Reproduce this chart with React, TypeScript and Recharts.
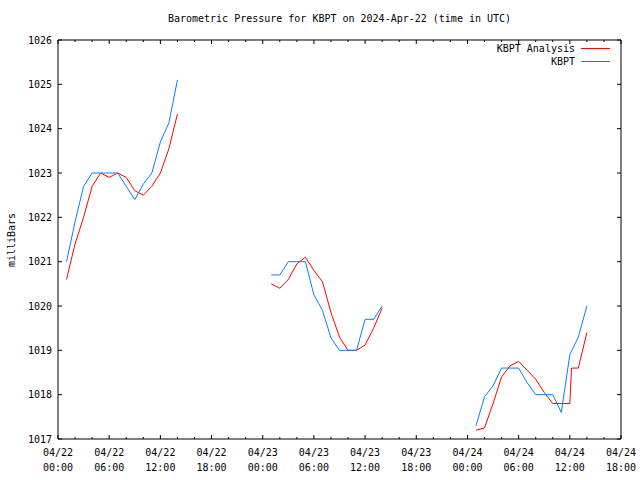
import React from 'react';
import { LineChart, Line, XAxis, YAxis, Legend } from 'recharts';

// hours since 04/22 00:00 UTC, null value = gap in the record
const analysisHours = [
  1, 2, 3, 4, 5, 6, 7, 8, 9, 10, 11, 12, 13, 14, 19,
  25, 26, 27, 28, 29, 30, 31, 32, 33, 34, 35, 36, 37, 38, 43,
  49, 50, 51, 52, 53, 54, 55, 56, 57, 58, 59, 60, 60.2, 61, 62,
];
const analysisValues = [
  1020.6, 1021.4, 1022.0, 1022.7, 1023.0, 1022.9, 1023.0, 1022.9, 1022.6, 1022.5, 1022.7, 1023.0, 1023.55, 1024.33, null,
  1020.5, 1020.4, 1020.6, 1020.95, 1021.1, 1020.8, 1020.55, 1019.85, 1019.3, 1019.0, 1019.0, 1019.12, 1019.5, 1019.95, null,
  1017.2, 1017.25, 1017.8, 1018.4, 1018.65, 1018.75, 1018.55, 1018.35, 1018.05, 1017.8, 1017.8, 1017.8, 1018.6, 1018.6, 1019.4,
];

const kbptHours = [
  1, 2, 3, 4, 5, 6, 7, 8, 9, 10, 11, 12, 13, 14, 19,
  25, 26, 27, 28, 29, 30, 31, 32, 33, 34, 35, 36, 37, 38, 43,
  49, 50, 51, 52, 53, 54, 55, 56, 57, 58, 59, 60, 61, 62,
];
const kbptValues = [
  1021.0, 1021.9, 1022.7, 1023.0, 1023.0, 1023.0, 1023.0, 1022.7, 1022.4, 1022.75, 1023.0, 1023.7, 1024.13, 1025.1, null,
  1020.7, 1020.7, 1021.0, 1021.0, 1021.0, 1020.25, 1019.9, 1019.28, 1019.0, 1019.0, 1019.0, 1019.7, 1019.7, 1020.0, null,
  1017.3, 1017.95, 1018.2, 1018.6, 1018.6, 1018.6, 1018.27, 1018.0, 1018.0, 1018.0, 1017.6, 1018.9, 1019.3, 1020.0,
];

const xTicks = [0, 2, 4, 6, 8, 10, 12, 14, 16, 18, 20, 22, 24, 26, 28, 30, 32, 34, 36, 38, 40, 42, 44, 46, 48, 50, 52, 54, 56, 58, 60, 62, 64, 66];
const yTicks = [1017, 1018, 1019, 1020, 1021, 1022, 1023, 1024, 1025, 1026];

const analysisData = analysisHours.map((t, i) => ({ t, p: analysisValues[i] }));
const kbptData = kbptHours.map((t, i) => ({ t, p: kbptValues[i] }));

const font = '"DejaVu Sans Mono", monospace';
const red = '#ff0000';
const blue = '#0080ff';

const pad = (n: number) => (n < 10 ? '0' + n : '' + n);

// gnuplot style: ticks point into the plot, minor every 2h, labels every 6h
const BottomTick = ({ x, y, payload }: any) => {
  const v = payload.value;
  const major = v % 6 === 0;
  return (
    <g>
      <line x1={x} y1={y} x2={x} y2={y - (major ? 4 : 2)} stroke="#000" />
      {major && (
        <text x={x} y={y + 17} textAnchor="middle" fontFamily={font} fontSize={10} fill="#000">
          {`04/${22 + Math.floor(v / 24)}`}
        </text>
      )}
      {major && (
        <text x={x} y={y + 32} textAnchor="middle" fontFamily={font} fontSize={10} fill="#000">
          {`${pad(v % 24)}:00`}
        </text>
      )}
    </g>
  );
};

const TopTick = ({ x, y, payload }: any) => {
  const major = payload.value % 6 === 0;
  return <line x1={x} y1={y} x2={x} y2={y + (major ? 4 : 2)} stroke="#000" />;
};

const LeftTick = ({ x, y, payload }: any) => (
  <g>
    <line x1={x} y1={y} x2={x + 4} y2={y} stroke="#000" />
    <text x={x - 6} y={y} dy="0.35em" textAnchor="end" fontFamily={font} fontSize={10} fill="#000">
      {payload.value}
    </text>
  </g>
);

const RightTick = ({ x, y }: any) => <line x1={x} y1={y} x2={x - 4} y2={y} stroke="#000" />;

const KeyBox = () => (
  <div style={{ fontFamily: font, fontSize: 10, color: '#000' }}>
    {[
      { name: 'KBPT Analysis', color: red },
      { name: 'KBPT', color: blue },
    ].map((item) => (
      <div key={item.name} style={{ display: 'flex', justifyContent: 'flex-end', alignItems: 'center', height: 13 }}>
        <span style={{ lineHeight: '13px' }}>{item.name}</span>
        <svg width={30} height={13} style={{ marginLeft: 6 }}>
          <line x1={0} y1={6.5} x2={29} y2={6.5} stroke={item.color} strokeWidth={1} />
        </svg>
      </div>
    ))}
  </div>
);

export default function App() {
  return (
    <div style={{ position: 'absolute', left: 0, top: 0, width: 640, height: 480, background: '#fff' }}>
      <div
        style={{
          position: 'absolute', top: 12, left: 58, width: 563, textAlign: 'center',
          fontFamily: font, fontSize: 10, lineHeight: '14px', color: '#000',
        }}
      >
        Barometric Pressure for KBPT on 2024-Apr-22 (time in UTC)
      </div>
      <div
        style={{
          position: 'absolute', left: 11, top: 240, transform: 'translate(-50%, -50%) rotate(-90deg)',
          whiteSpace: 'nowrap', fontFamily: font, fontSize: 10, color: '#000',
        }}
      >
        milliBars
      </div>
      <LineChart width={640} height={480} margin={{ top: 30, right: 9, bottom: 6, left: 0 }}>
        <XAxis
          xAxisId="b"
          type="number"
          dataKey="t"
          domain={[0, 66]}
          ticks={xTicks}
          interval={0}
          allowDataOverflow
          height={35}
          tickSize={0}
          tickMargin={0}
          tick={<BottomTick />}
          axisLine={{ stroke: '#000' }}
        />
        <XAxis
          xAxisId="top"
          orientation="top"
          type="number"
          dataKey="t"
          domain={[0, 66]}
          ticks={xTicks}
          interval={0}
          allowDataOverflow
          height={10}
          tickSize={0}
          tickMargin={0}
          tick={<TopTick />}
          axisLine={{ stroke: '#000' }}
        />
        <YAxis
          yAxisId="l"
          type="number"
          domain={[1017, 1026]}
          ticks={yTicks}
          interval={0}
          allowDataOverflow
          width={58}
          tickSize={0}
          tickMargin={0}
          tick={<LeftTick />}
          axisLine={{ stroke: '#000' }}
        />
        <YAxis
          yAxisId="r"
          orientation="right"
          type="number"
          domain={[1017, 1026]}
          ticks={yTicks}
          interval={0}
          allowDataOverflow
          width={10}
          tickSize={0}
          tickMargin={0}
          tick={<RightTick />}
          axisLine={{ stroke: '#000' }}
        />
        <Legend
          verticalAlign="middle"
          align="center"
          content={<KeyBox />}
          wrapperStyle={{ top: 42, left: 436, width: 175, height: 26 }}
        />
        <Line
          xAxisId="b"
          yAxisId="l"
          data={analysisData}
          dataKey="p"
          name="KBPT Analysis"
          type="linear"
          stroke={red}
          strokeWidth={1}
          dot={false}
          activeDot={false}
          connectNulls={false}
          isAnimationActive={false}
        />
        <Line
          xAxisId="b"
          yAxisId="l"
          data={kbptData}
          dataKey="p"
          name="KBPT"
          type="linear"
          stroke={blue}
          strokeWidth={1}
          dot={false}
          activeDot={false}
          connectNulls={false}
          isAnimationActive={false}
        />
      </LineChart>
    </div>
  );
}
